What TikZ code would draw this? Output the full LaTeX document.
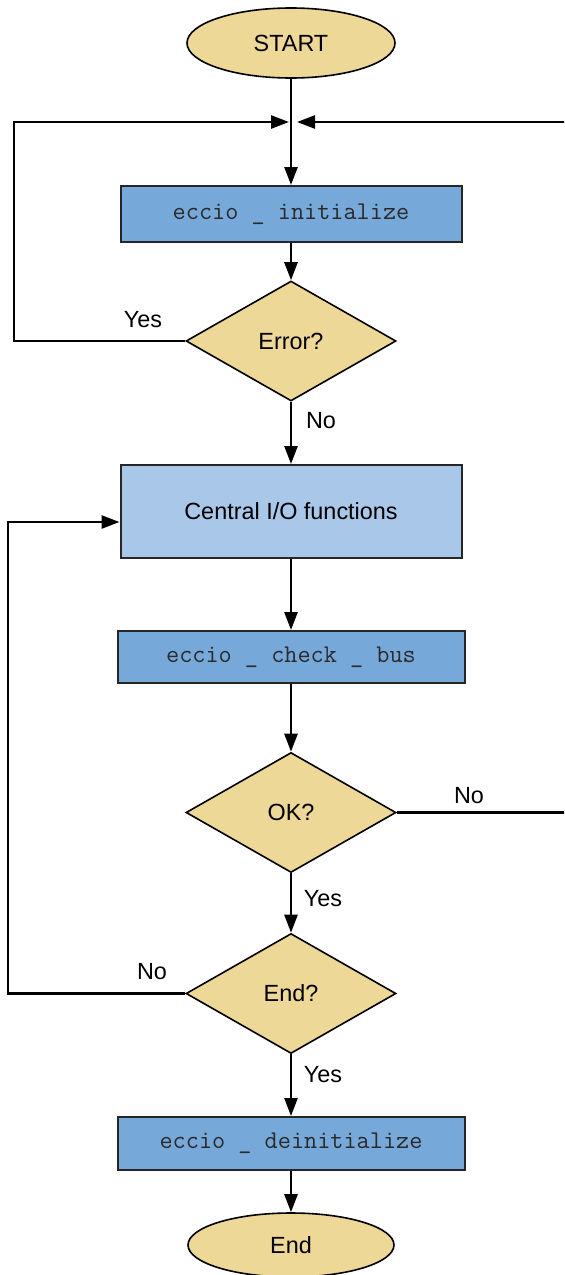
\documentclass[tikz,border=0pt]{standalone}
\usepackage{fontspec}
\setmainfont{Liberation Sans}
\usetikzlibrary{shapes.geometric,arrows.meta}
\definecolor{termfill}{HTML}{EDD898}
\definecolor{procfill}{HTML}{76A8DA}
\definecolor{corefill}{HTML}{A9C7E8}
\definecolor{codetext}{HTML}{2A2A2A}
\begin{document}
\begin{tikzpicture}[x=0.5pt,y=-0.5pt,
  lblfont/.style={font=\fontsize{11.7}{14}\selectfont},
  terminal/.style={ellipse, draw=black, line width=0.8pt, fill=termfill,
    minimum width=104pt, minimum height=35pt, inner sep=0pt, lblfont},
  procbox/.style={rectangle, draw=black!85, line width=1pt, fill=procfill,
    inner sep=0pt, text=codetext, font=\fontsize{12.76}{14}\selectfont\ttfamily},
  corebox/.style={rectangle, draw=black!85, line width=1pt, fill=corefill,
    inner sep=0pt, lblfont},
  decision/.style={diamond, draw=black, line width=0.8pt, fill=termfill,
    minimum width=105pt, minimum height=60pt, inner sep=0pt, lblfont},
  flow/.style={line width=1.3pt, -{Triangle[length=9pt,width=6.5pt]}},
  wire/.style={line width=1.3pt},
  tag/.style={inner sep=0pt, lblfont}]

\clip (0,0) rectangle (564,1275);
\useasboundingbox (0,0) rectangle (564,1275);

% process steps
\node[terminal] (start) at (291,43) {START};
\node[procbox, minimum width=170.5pt, minimum height=28pt] (init) at (291,214) {eccio \_ initialize};
\node[decision] (err) at (291,341) {Error?};
\node[corebox, minimum width=170.5pt, minimum height=46.5pt] (core) at (291,511.5) {Central I/O functions};
\node[procbox, minimum width=173.5pt, minimum height=26pt] (bus) at (291,657) {eccio \_ check \_ bus};
\node[decision] (ok) at (291,812.5) {OK?};
\node[decision] (fin) at (291,993.5) {End?};
\node[procbox, minimum width=173.5pt, minimum height=26.5pt] (deinit) at (291,1143.5) {eccio \_ deinitialize};
\node[terminal, minimum width=103pt, minimum height=32pt] (stop) at (291,1245) {End};

% junction points of the loops
\coordinate (jl) at (289,122);
\coordinate (jr) at (297,122);
\coordinate (rtop) at (570,122);
\coordinate (rok) at (570,812.5);
\coordinate (errcorner) at (14,341);
\coordinate (topcorner) at (14,122);
\coordinate (fincorner) at (8,993.5);
\coordinate (corecorner) at (8,522);
\coordinate (coreentry) at (core.west |- corecorner);

% main flow
\draw[flow] (start) -- (init);
\draw[flow] (init) -- (err);
\draw[flow] (err) -- (core);
\draw[flow] (core) -- (bus);
\draw[flow] (bus) -- (ok);
\draw[flow] (ok) -- (fin);
\draw[flow] (fin) -- (deinit);
\draw[flow] (deinit) -- (stop);

% retry loops
\draw[flow] (err.west) -- (errcorner) -- (topcorner) -- (jl);
\draw[flow] (rtop) -- (jr);
\draw[wire] (ok.east) -- (rok);
\draw[flow] (fin.west) -- (fincorner) -- (corecorner) -- (coreentry);

% branch labels
\node[tag] (errYes) at (143,320) {Yes};
\node[tag] (errNo) at (321,421) {No};
\node[tag] (okNo) at (469,796) {No};
\node[tag] (okYes) at (323,899) {Yes};
\node[tag] (finNo) at (152,972) {No};
\node[tag] (finYes) at (323,1075) {Yes};
\end{tikzpicture}
\end{document}
